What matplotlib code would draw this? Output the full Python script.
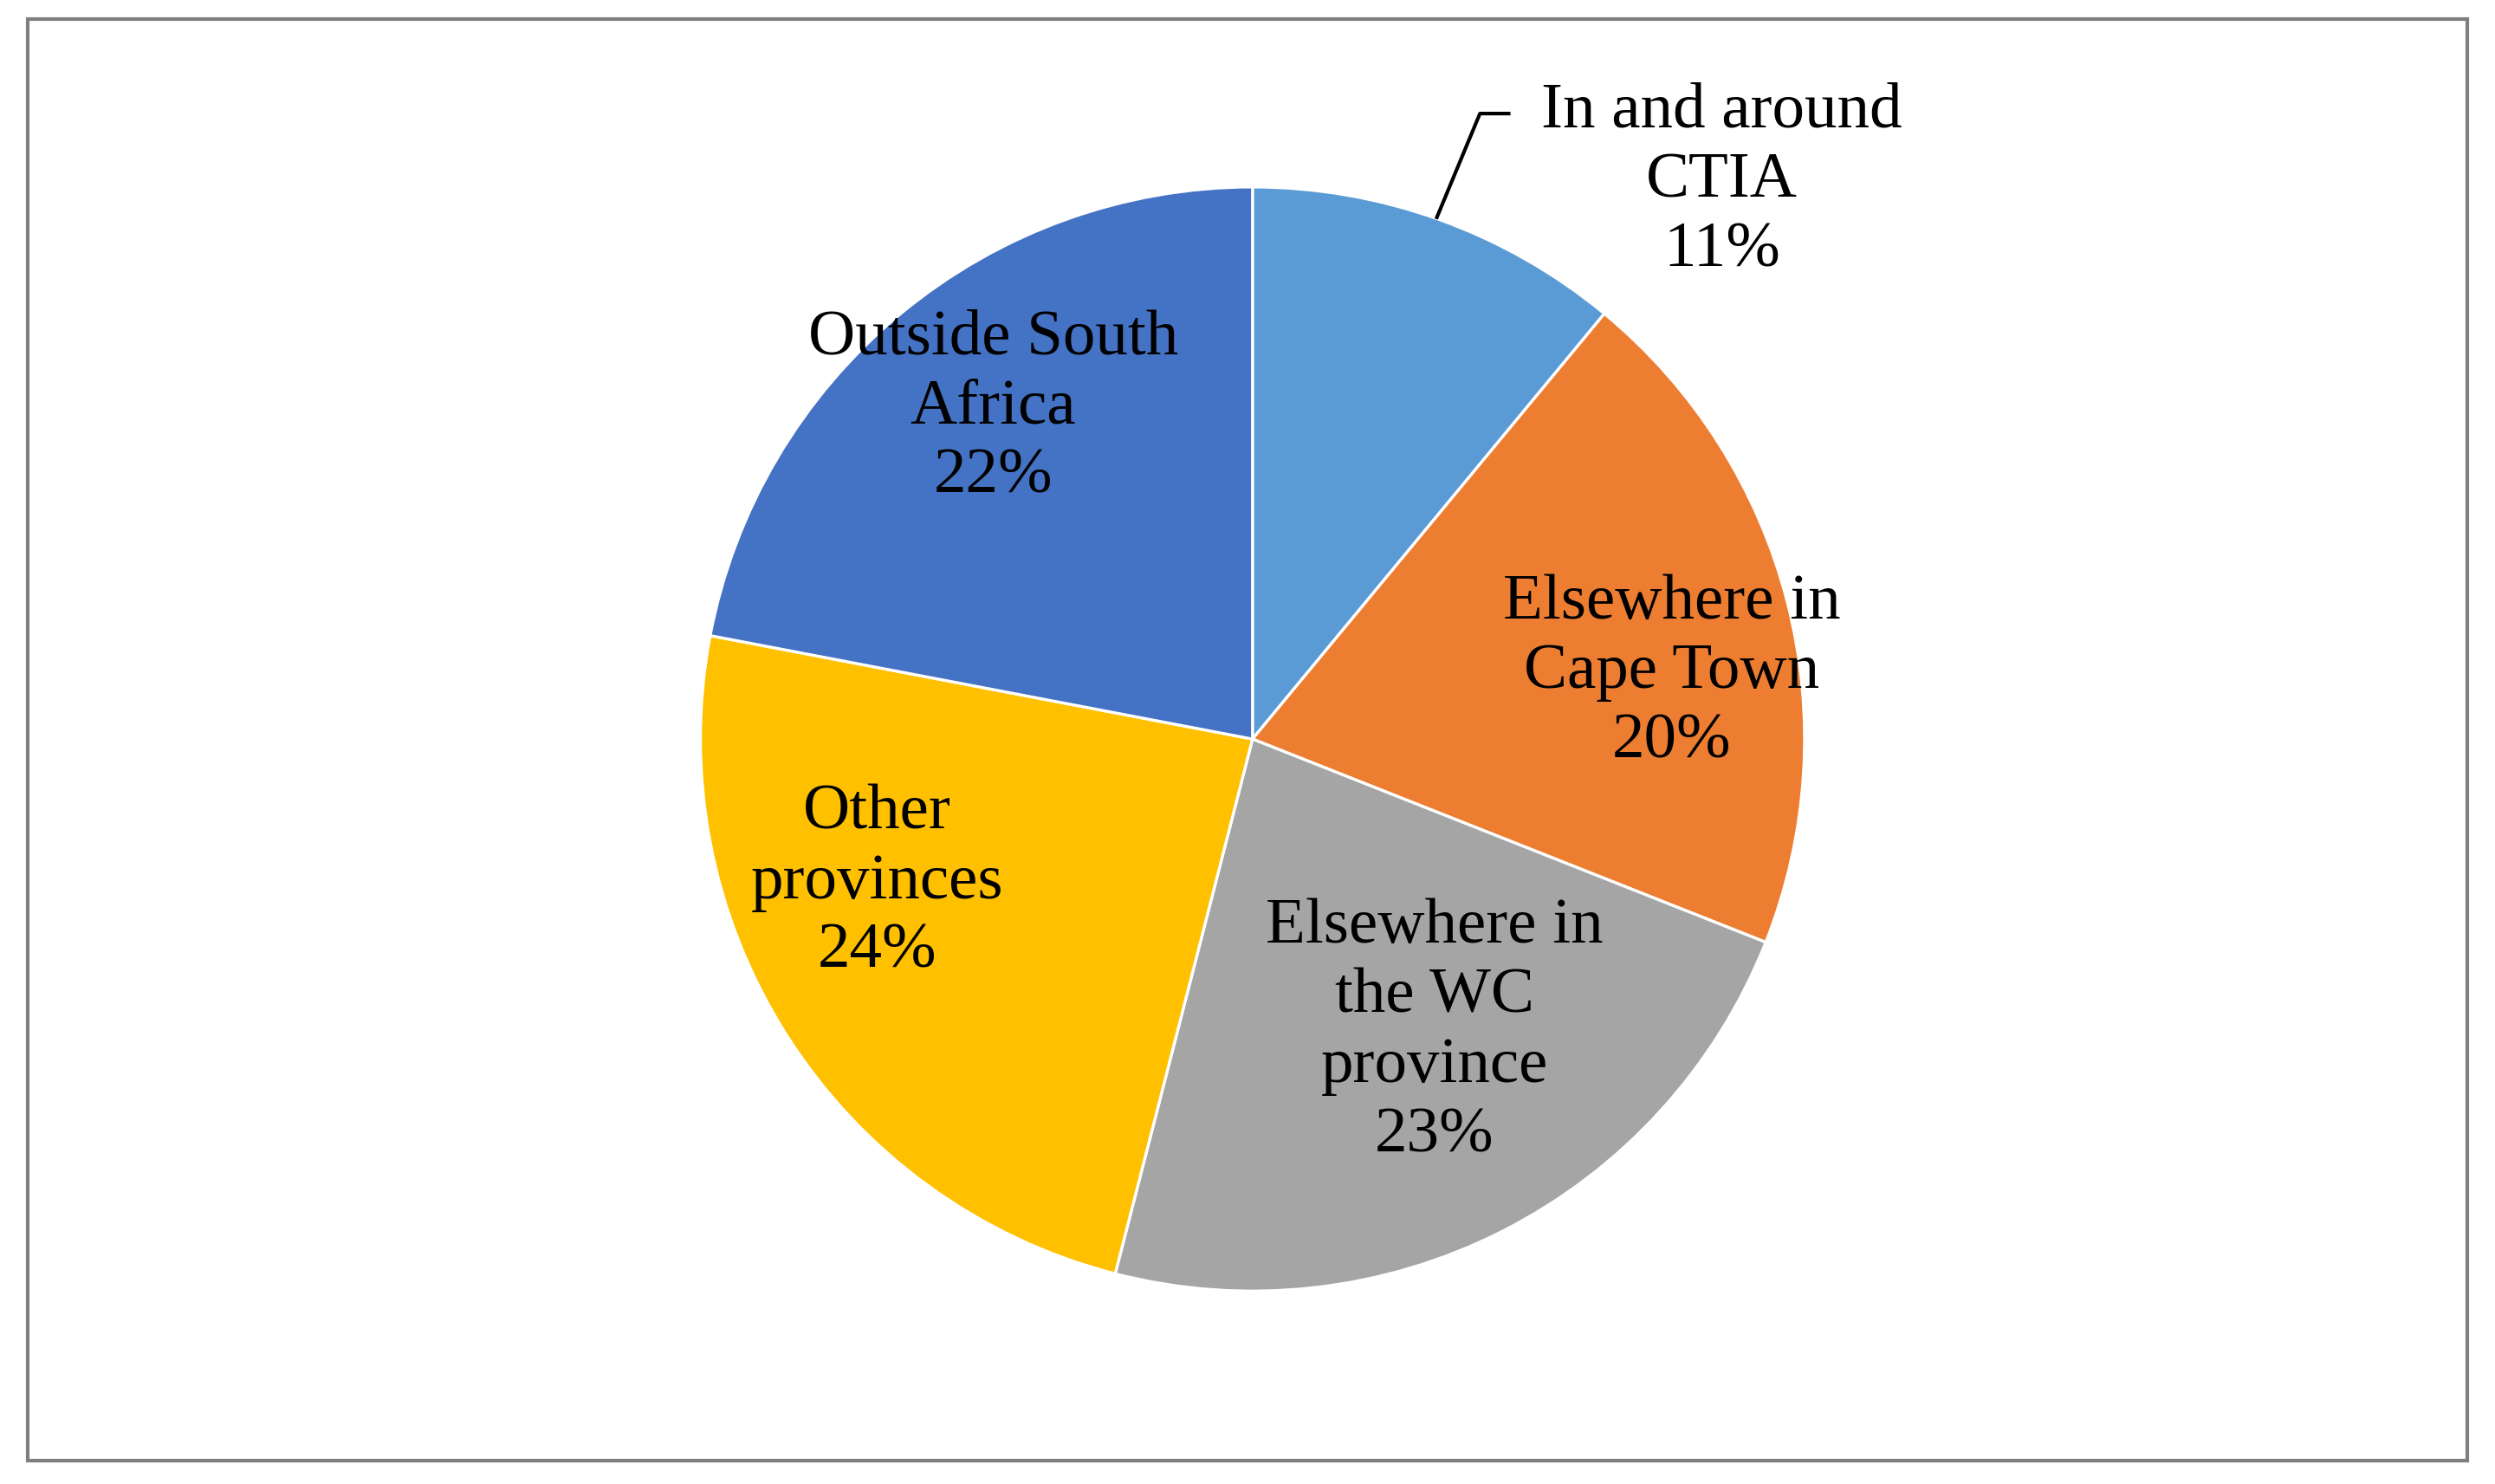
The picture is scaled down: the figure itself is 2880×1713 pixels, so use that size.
import matplotlib.pyplot as plt
from matplotlib.patches import Rectangle

# data
labels = ["In and around\nCTIA", "Elsewhere in\nCape Town", "Elsewhere in\nthe WC\nprovince",
          "Other\nprovinces", "Outside South\nAfrica"]
values = [11, 20, 23, 24, 22]
colors = ["#5B9BD5", "#ED7D31", "#A5A5A5", "#FFC000", "#4472C4"]
# label centres in units of pie radius
label_pos = [(0.85, 1.01), (0.76, 0.12), (0.33, -0.53), (-0.68, -0.26), (-0.47, 0.60)]

plt.rcParams['font.family'] = ['Liberation Serif', 'DejaVu Serif']

fig = plt.figure(figsize=(14.4, 8.565), dpi=200)
fig.patches.append(Rectangle((0.011, 0.016), 0.978, 0.971, transform=fig.transFigure,
                             fill=False, edgecolor='#7f7f7f', linewidth=1.5))

w = 0.744 * 8.565 / 14.4
ax = fig.add_axes([0.502 - w / 2, 0.502 - 0.372, w, 0.744])
ax.pie(values, colors=colors, startangle=90, counterclock=False, radius=1,
       wedgeprops=dict(edgecolor='white', linewidth=1.2))
ax.set_xlim(-1, 1)
ax.set_ylim(-1, 1)
ax.set_aspect('equal')
ax.axis('off')

for lab, v, (x, y) in zip(labels, values, label_pos):
    ax.text(x, y, f"{lab}\n{v}%", ha='center', va='center', fontsize=27,
            linespacing=1.25, clip_on=False)

# leader line for the small slice
ax.plot([0.334, 0.412, 0.464], [0.945, 1.133, 1.133], color='black', lw=1.5, clip_on=False)

fig.savefig("out.png", dpi=200)
